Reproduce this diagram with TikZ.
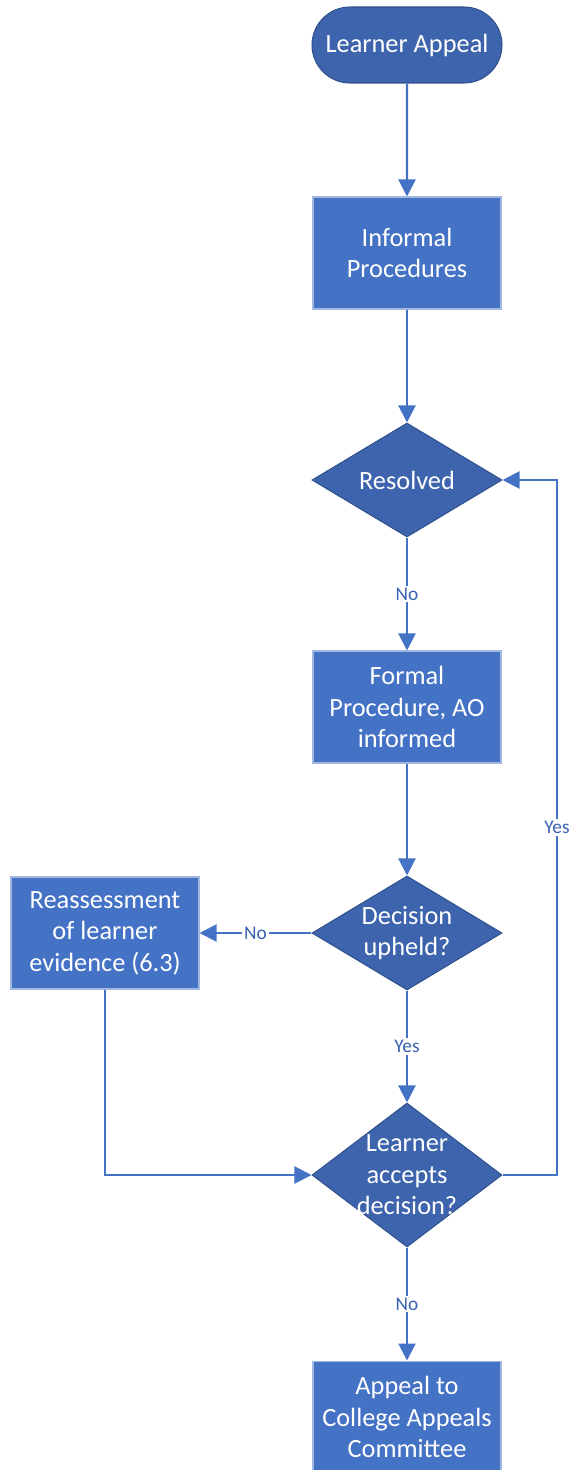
\documentclass[tikz,border=0pt]{standalone}
\usepackage{fontspec}
\setmainfont{Carlito}
\usetikzlibrary{shapes.geometric,arrows.meta}
\definecolor{boxblue}{HTML}{4472C4}
\definecolor{darkblue}{HTML}{3D64AD}
\definecolor{edgeblue}{HTML}{2F528F}
\definecolor{lineblue}{HTML}{4472C4}
\definecolor{lblblue}{HTML}{3A62B2}
\tikzset{
  txt/.style={text=white, align=center, font=\fontsize{15}{18}\selectfont},
  terminal/.style={txt, rounded rectangle, fill=darkblue, draw=edgeblue, line width=0.6pt,
    minimum width=3.8cm, minimum height=1.52cm, inner sep=0pt},
  process/.style={txt, rectangle, fill=boxblue, draw=boxblue!50!white, line width=0.6pt,
    minimum width=3.76cm, minimum height=2.24cm, inner sep=0pt},
  decision/.style={diamond, fill=darkblue, draw=edgeblue, line width=0.6pt,
    minimum width=3.8cm, minimum height=2.28cm, inner sep=0pt},
  lbl/.style={fill=white, text=lblblue, inner sep=1pt, font=\fontsize{11}{13}\selectfont},
  flow/.style={draw=lineblue, line width=1.2pt, -{Triangle[length=0.34cm, width=0.34cm]}}
}
\usetikzlibrary{shapes.misc}
\begin{document}
\begin{tikzpicture}[x=0.02cm, y=-0.02cm]
  \useasboundingbox (0,0) rectangle (575,1470);
  \node[terminal] (start) at (407,45) {Learner Appeal};
  \node[process] (informal) at (407,253) {Informal\\Procedures};
  \node[decision, label={[txt]center:Resolved}] (resolved) at (407,480) {};
  \node[process] (formal) at (407,707) {Formal\\Procedure, AO\\informed};
  \node[decision, label={[txt]center:Decision\\upheld?}] (upheld) at (407,933) {};
  \node[process] (reassess) at (105,933) {Reassessment\\of learner\\evidence (6.3)};
  \node[decision, minimum height=2.88cm, label={[txt]center:Learner\\accepts\\decision?}] (accepts) at (407,1175) {};
  \node[process] (committee) at (407,1417) {Appeal to\\College Appeals\\Committee};
  \coordinate (loop) at (557,1175);
  \begin{scope}[flow]
    \draw (start) to (informal);
    \draw (informal) to (resolved);
    \draw (resolved) to node[lbl]{No} (formal);
    \draw (formal) to (upheld);
    \draw (upheld) to node[lbl]{No} (reassess);
    \draw (upheld) to node[lbl]{Yes} (accepts);
    \draw (reassess.south) |- (accepts.west);
    \draw (accepts.east) -- (loop) -- node[lbl]{Yes} (loop |- resolved.east) -- (resolved.east);
    \draw (accepts) to node[lbl]{No} (committee);
  \end{scope}
\end{tikzpicture}
\end{document}
